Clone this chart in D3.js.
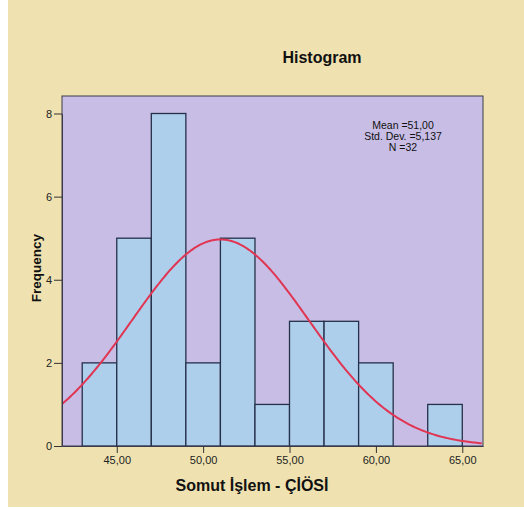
<!DOCTYPE html>
<html><head><meta charset="utf-8">
<script src="https://cdn.jsdelivr.net/npm/d3@7"></script>
<style>body{margin:0;background:#fff}svg{display:block}text{font-family:"Liberation Sans",Arial,sans-serif}</style>
</head><body><svg id="c" width="524" height="510"></svg>
<script>
const binStarts = [43,45,47,49,51,53,55,57,59,61,63];
const binCounts = [2,5,8,2,5,1,3,3,2,0,1];
const binWidth = 2;
const xTicks = [45,50,55,60,65];
const xTickLabels = ["45,00","50,00","55,00","60,00","65,00"];
const yTicks = [0,2,4,6,8];
const statMean = 51.00, statSD = 5.137, statN = 32;
const statLines = ["Mean =51,00","Std. Dev. =5,137","N =32"];
const title = "Histogram", xTitle = "Somut İşlem - ÇİÖSİ", yTitle = "Frequency";

const svg = d3.select("#c");
svg.append("rect").attr("x",8).attr("y",0).attr("width",516).attr("height",507).attr("fill","#efe2b0");
const L=62,R=483,T=96,B=446;
const x = d3.scaleLinear().domain([41.83,66.2]).range([L,R]);
const y = d3.scaleLinear().domain([0,8]).range([B,113.5]);
svg.append("rect").attr("x",L).attr("y",T).attr("width",R-L).attr("height",B-T).attr("fill","#c7bde5").attr("stroke","#3a3a4a").attr("stroke-width",1);

svg.append("clipPath").attr("id","pc").append("rect").attr("x",L).attr("y",T).attr("width",R-L).attr("height",B-T);
const g = svg.append("g");
g.selectAll("rect.bar").data(binStarts.map((s,i)=>({s,c:binCounts[i]})).filter(d=>d.c>0)).enter().append("rect")
 .attr("x",d=>x(d.s)).attr("width",d=>x(d.s+binWidth)-x(d.s))
 .attr("y",d=>y(d.c)).attr("height",d=>y(0)-y(d.c))
 .attr("fill","#aecfec").attr("stroke","#25304a").attr("stroke-width",1.3);

// normal curve from stated Mean, SD, N
const xs = d3.range(41.83,66.21,0.1);
const dens = v => statN*binWidth/(statSD*Math.sqrt(2*Math.PI))*Math.exp(-0.5*((v-statMean)/statSD)**2);
g.append("path").attr("clip-path","url(#pc)").datum(xs).attr("fill","none").attr("stroke","#e03553").attr("stroke-width",2)
 .attr("d",d3.line().x(d=>x(d)).y(d=>y(dens(d))));

// axes
const xa = svg.append("g").attr("transform",`translate(0,${B})`)
 .call(d3.axisBottom(x).tickValues(xTicks).tickFormat((d,i)=>xTickLabels[i]).tickSize(7).tickSizeOuter(0).tickPadding(3));
const ya = svg.append("g").attr("transform",`translate(${L},0)`)
 .call(d3.axisLeft(y).tickValues(yTicks).tickSize(8).tickSizeOuter(0).tickPadding(2));
[xa,ya].forEach(a=>{a.select(".domain").attr("stroke","#3a3a4a");a.selectAll("line").attr("stroke","#333");
 a.selectAll("text").attr("font-size",11).attr("fill","#222").attr("font-family","Liberation Sans, Arial, sans-serif");});

svg.append("text").attr("x",322).attr("y",63).attr("text-anchor","middle").attr("font-size",16).attr("font-weight","bold").attr("fill","#111").text(title);
svg.append("text").attr("x",252).attr("y",491).attr("text-anchor","middle").attr("font-size",16).attr("font-weight","bold").attr("fill","#111").text(xTitle);
svg.append("text").attr("transform","translate(41,268) rotate(-90)").attr("text-anchor","middle").attr("font-size",13.5).attr("font-weight","bold").attr("fill","#111").text(yTitle);
statLines.forEach((s,i)=>svg.append("text").attr("x",403).attr("y",129+i*10.8).attr("text-anchor","middle").attr("font-size",10.5).attr("fill","#111").text(s));
</script></body></html>
